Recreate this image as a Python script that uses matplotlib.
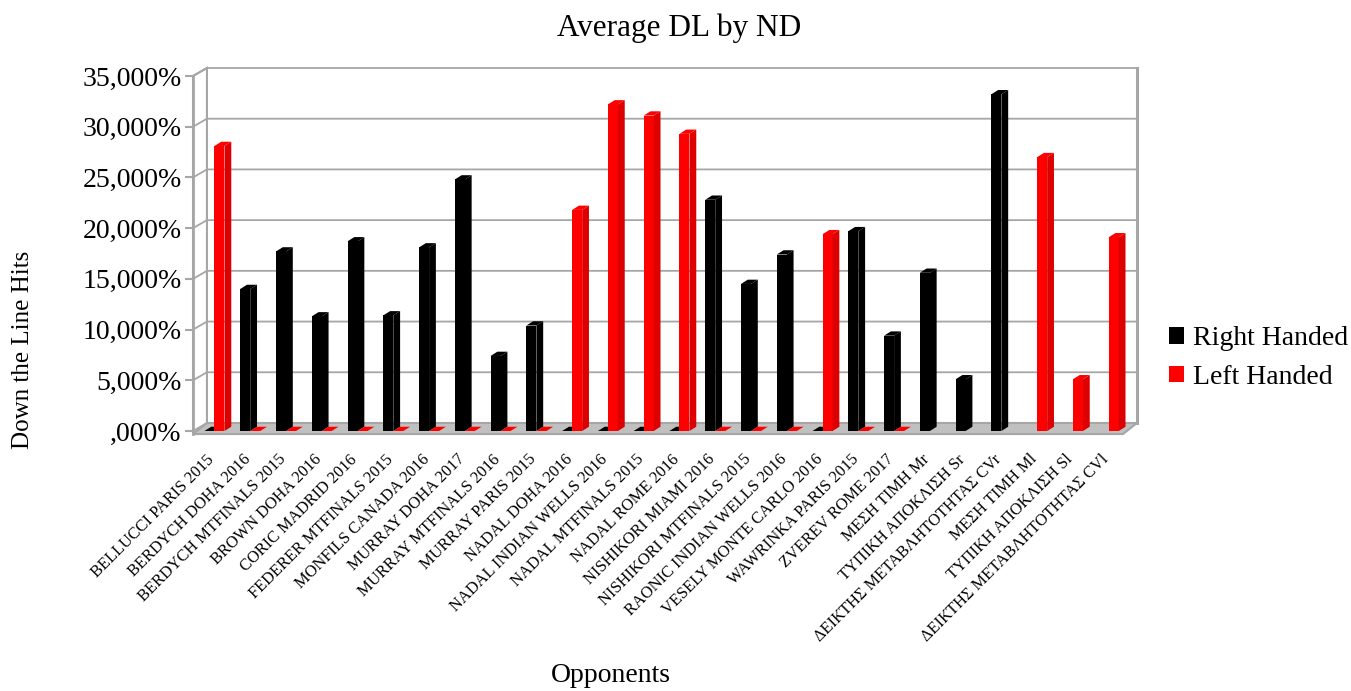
import numpy as np
import matplotlib.pyplot as plt
from matplotlib.patches import Polygon, Patch
from matplotlib.transforms import ScaledTranslation

plt.rcParams['font.family'] = ['Liberation Serif', 'DejaVu Serif']

nan = np.nan

opponents = [
    "BELLUCCI PARIS 2015", "BERDYCH DOHA 2016", "BERDYCH MTFINALS 2015",
    "BROWN DOHA 2016", "CORIC MADRID 2016", "FEDERER MTFINALS 2015",
    "MONFILS CANADA 2016", "MURRAY DOHA 2017", "MURRAY MTFINALS 2016",
    "MURRAY PARIS 2015", "NADAL DOHA 2016", "NADAL INDIAN WELLS 2016",
    "NADAL MTFINALS 2015", "NADAL ROME 2016", "NISHIKORI MIAMI 2016",
    "NISHIKORI MTFINALS 2015", "RAONIC INDIAN WELLS 2016",
    "VESELY MONTE CARLO 2016", "WAWRINKA PARIS 2015", "ZVEREV ROME 2017",
    "ΜΕΣΗ ΤΙΜΗ Mr", "ΤΥΠΙΚΗ ΑΠΟΚΛΙΣΗ Sr", "ΔΕΙΚΤΗΣ ΜΕΤΑΒΛΗΤΟΤΗΤΑΣ CVr",
    "ΜΕΣΗ ΤΙΜΗ Ml", "ΤΥΠΙΚΗ ΑΠΟΚΛΙΣΗ Sl", "ΔΕΙΚΤΗΣ ΜΕΤΑΒΛΗΤΟΤΗΤΑΣ CVl",
]

# percentages
right_handed = [0, 14.0, 17.7, 11.3, 18.7, 11.4, 18.1, 24.8, 7.4, 10.4,
                0, 0, 0, 0, 22.8, 14.5, 17.4, 0, 19.7, 9.4,
                15.6, 5.1, 33.2, nan, nan, nan]
left_handed = [28.1, 0, 0, 0, 0, 0, 0, 0, 0, 0,
               21.8, 32.2, 31.1, 29.3, 0, 0, 0, 19.4, 0, 0,
               nan, nan, nan, 27.0, 5.1, 19.1]

y_ticks = [0, 5, 10, 15, 20, 25, 30, 35]
y_tick_labels = [",000%", "5,000%", "10,000%", "15,000%", "20,000%",
                 "25,000%", "30,000%", "35,000%"]

W, H = 1351, 691
fig = plt.figure(figsize=(W / 100, H / 100), dpi=100)
ax = fig.add_axes([193 / W, 260 / H, 930 / W, 355 / H])

x0, x1 = -0.6, 25.4
ax.set_xlim(x0, x1)
ax.set_ylim(0, 35)
for s in ax.spines.values():
    s.set_visible(False)

# fake 3D box: depth offsets in data units
wall_dx, wall_dy = 0.39, 0.79
bar_dx, bar_dy = 0.19, 0.42
floor_y = -0.3
grid_c = '#a6a6a6'

ax.add_patch(Polygon([(x0, floor_y), (x0, 35), (x0 + wall_dx, 35 + wall_dy),
                      (x0 + wall_dx, wall_dy)], closed=True, facecolor='white',
                     edgecolor=grid_c, lw=1.5, clip_on=False, zorder=0))
for v in y_ticks:
    ax.plot([x0, x0 + wall_dx, x1 + wall_dx], [v, v + wall_dy, v + wall_dy],
            color=grid_c, lw=1.3, clip_on=False, zorder=0.5)
ax.plot([x1 + wall_dx] * 2, [wall_dy, 35 + wall_dy], color=grid_c, lw=2.2,
        clip_on=False, zorder=0.5)
ax.plot([x0, x0], [floor_y, 35], color=grid_c, lw=2, clip_on=False, zorder=0.6)
ax.add_patch(Polygon([(x0, floor_y), (x1, floor_y), (x1 + wall_dx, wall_dy),
                      (x0 + wall_dx, wall_dy)], closed=True, facecolor='#c0c0c0',
                     edgecolor=grid_c, lw=1.5, clip_on=False, zorder=1))

x = np.arange(len(opponents))
w = 0.28
black_bars = ax.bar(x - w, right_handed, width=w, align='edge', color='black',
                    zorder=2)
red_bars = ax.bar(x, left_handed, width=w, align='edge', color='#ff0000',
                  zorder=3)


def add_depth(bars, top_color, side_color, z):
    for b in bars:
        h = b.get_height()
        if np.isnan(h):
            continue
        bx, bw = b.get_x(), b.get_width()
        side = [(bx + bw, 0), (bx + bw + bar_dx, bar_dy),
                (bx + bw + bar_dx, h + bar_dy), (bx + bw, h)]
        top = [(bx, h), (bx + bw, h), (bx + bw + bar_dx, h + bar_dy),
               (bx + bar_dx, h + bar_dy)]
        ax.add_patch(Polygon(side, closed=True, facecolor=side_color,
                             edgecolor='none', zorder=z, clip_on=False))
        ax.add_patch(Polygon(top, closed=True, facecolor=top_color,
                             edgecolor='none', zorder=z, clip_on=False))


add_depth(black_bars, 'black', 'black', 2)
add_depth(red_bars, '#ff0000', '#dc0000', 3)

ax.set_yticks(y_ticks, y_tick_labels)
ax.tick_params(axis='y', length=6, width=1.5, color=grid_c, pad=2,
               labelsize=20)
ax.set_xticks(x, opponents, rotation=45, ha='right', rotation_mode='anchor',
              fontsize=11.8)
ax.tick_params(axis='x', length=0, pad=9)
shift = ScaledTranslation(-8 / 100, -8 / 100, fig.dpi_scale_trans)
for lbl in ax.get_xticklabels():
    lbl.set_transform(lbl.get_transform() + shift)

fig.text(679 / W, 1 - 28 / H, "Average DL by ND", ha='center', va='center',
         fontsize=22.5)
fig.text(23 / W, 1 - 350 / H, "Down the Line Hits", rotation=90,
         ha='center', va='center', fontsize=18)
fig.text(611 / W, 1 - 676 / H, "Opponents", ha='center', va='center',
         fontsize=20)

handles = [Patch(facecolor='black', label='Right Handed'),
           Patch(facecolor='#ff0000', label='Left Handed')]
fig.legend(handles=handles, loc='center left',
           bbox_to_anchor=(1158 / W, 1 - 358 / H), frameon=False,
           fontsize=20, handlelength=0.55, handleheight=0.55,
           handletextpad=0.3, labelspacing=0.5, borderaxespad=0)

fig.savefig('out.png', dpi=100)
